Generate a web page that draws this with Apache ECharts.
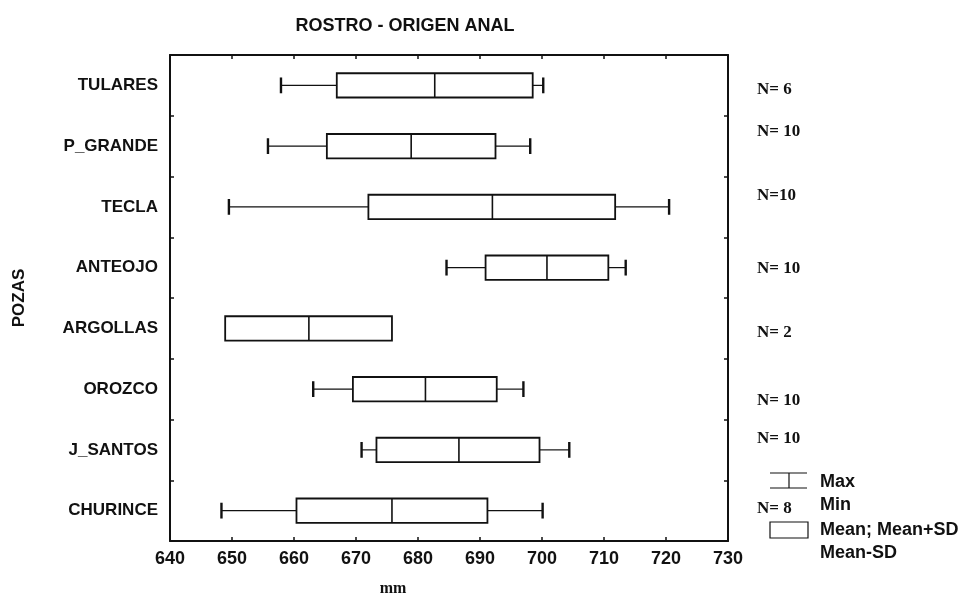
<!DOCTYPE html>
<html>
<head>
<meta charset="utf-8">
<title>ROSTRO - ORIGEN ANAL</title>
<script src="https://cdn.jsdelivr.net/npm/echarts@6/dist/echarts.min.js"></script>
<style>
  html, body { margin: 0; padding: 0; background: #fff; }
  #chart { width: 974px; height: 602px; }
</style>
</head>
<body>
<div id="chart"></div>
<script>
// values (mm)
const categories = ['TULARES', 'P_GRANDE', 'TECLA', 'ANTEOJO', 'ARGOLLAS', 'OROZCO', 'J_SANTOS', 'CHURINCE']
const minVals = [657.9, 655.8, 649.5, 684.6, 648.9, 663.1, 670.9, 648.3]
const meanMinusSd = [666.9, 665.3, 672.0, 690.9, 648.9, 669.5, 673.3, 660.4]
const means = [682.7, 678.9, 692.0, 700.8, 662.4, 681.2, 686.6, 675.8]
const meanPlusSd = [698.5, 692.5, 711.8, 710.7, 675.8, 692.7, 699.6, 691.2]
const maxVals = [700.2, 698.1, 720.5, 713.5, 675.8, 697.0, 704.4, 700.1]
const nLabels = ['N= 6', 'N= 10', 'N=10', 'N= 10', 'N= 2', 'N= 10', 'N= 10', 'N= 8']

// vertical nudge of the N labels, px (they are not centred on the rows)
const nOffsets = [4, -15, -11, 1, 4, 11, -11, -2]

const INK = '#111'
const SANS = 'Liberation Sans, Arial, sans-serif'
const SERIF = 'Liberation Serif, Times New Roman, serif'

const seriesData = categories.map((c, i) => [i, minVals[i], meanMinusSd[i], means[i], meanPlusSd[i], maxVals[i]])

function renderBox(params, api) {
  const cat = api.value(0)
  const pMin = api.coord([api.value(1), cat])
  const pLo = api.coord([api.value(2), cat])
  const pMean = api.coord([api.value(3), cat])
  const pHi = api.coord([api.value(4), cat])
  const pMax = api.coord([api.value(5), cat])
  const band = api.size([0, 1])[1]
  const boxH = band * 0.4
  const capH = band * 0.26
  const y = pMean[1]
  const children = []
  const thin = { stroke: INK, lineWidth: 1.2 }
  const cap = { stroke: INK, lineWidth: 2.4 }

  if (pMin[0] < pLo[0] - 1) {
    children.push({ type: 'line', shape: { x1: pMin[0], y1: y, x2: pLo[0], y2: y }, style: thin })
    children.push({ type: 'line', shape: { x1: pMin[0], y1: y - capH / 2, x2: pMin[0], y2: y + capH / 2 }, style: cap })
  }
  if (pMax[0] > pHi[0] + 1) {
    children.push({ type: 'line', shape: { x1: pHi[0], y1: y, x2: pMax[0], y2: y }, style: thin })
    children.push({ type: 'line', shape: { x1: pMax[0], y1: y - capH / 2, x2: pMax[0], y2: y + capH / 2 }, style: cap })
  }
  children.push({
    type: 'rect',
    shape: { x: pLo[0], y: y - boxH / 2, width: pHi[0] - pLo[0], height: boxH },
    style: { fill: '#fff', stroke: INK, lineWidth: 1.8 }
  })
  children.push({
    type: 'line',
    shape: { x1: pMean[0], y1: y - boxH / 2, x2: pMean[0], y2: y + boxH / 2 },
    style: { stroke: INK, lineWidth: 1.6 }
  })

  // N= label right of the frame
  const right = params.coordSys.x + params.coordSys.width
  children.push({
    type: 'text',
    x: right + 29,
    y: y + nOffsets[params.dataIndex],
    style: {
      text: nLabels[params.dataIndex],
      font: 'bold 17px ' + SERIF,
      fill: INK,
      verticalAlign: 'middle',
      align: 'left'
    }
  })
  return { type: 'group', children }
}

const tickStyle = { show: true, inside: true, length: 4, lineStyle: { color: INK, width: 1.5 } }
const frameLine = { show: true, lineStyle: { color: INK, width: 2 } }

const option = {
  backgroundColor: '#fff',
  animation: false,
  title: {
    text: 'ROSTRO - ORIGEN ANAL',
    left: 400,
    top: 12,
    textAlign: 'center',
    textStyle: { fontFamily: SANS, fontWeight: 'bold', fontSize: 18, color: INK }
  },
  grid: { left: 170, right: 246, top: 55, bottom: 59 },
  xAxis: [
    {
      type: 'value',
      position: 'bottom',
      min: 640,
      max: 730,
      interval: 10,
      name: 'mm',
      nameLocation: 'middle',
      nameGap: 40,
      nameTextStyle: { fontFamily: SERIF, fontWeight: 'bold', fontSize: 16, color: INK, padding: [0, 112, 0, 0] },
      axisLine: frameLine,
      axisTick: tickStyle,
      splitLine: { show: false },
      axisLabel: { fontFamily: SANS, fontWeight: 'bold', fontSize: 18, color: INK, margin: 9 }
    },
    {
      type: 'value',
      position: 'top',
      min: 640,
      max: 730,
      interval: 10,
      axisLine: frameLine,
      axisTick: tickStyle,
      splitLine: { show: false },
      axisLabel: { show: false }
    }
  ],
  yAxis: [
    {
      type: 'category',
      data: categories,
      inverse: true,
      position: 'left',
      name: 'POZAS',
      nameLocation: 'middle',
      nameRotate: 90,
      nameGap: 142,
      nameTextStyle: { fontFamily: SANS, fontWeight: 'bold', fontSize: 17, color: INK },
      axisLine: frameLine,
      axisTick: tickStyle,
      axisLabel: { fontFamily: SANS, fontWeight: 'bold', fontSize: 17, color: INK, margin: 12 }
    },
    {
      type: 'category',
      data: categories,
      inverse: true,
      position: 'right',
      axisLine: frameLine,
      axisTick: tickStyle,
      axisLabel: { show: false }
    }
  ],
  series: [
    {
      type: 'custom',
      renderItem: renderBox,
      xAxisIndex: 0,
      yAxisIndex: 0,
      encode: { x: [1, 2, 3, 4, 5], y: 0 },
      data: seriesData,
      clip: false
    }
  ],
  graphic: [
    // legend, bottom right
    { type: 'line', shape: { x1: 770, y1: 473, x2: 807, y2: 473 }, style: { stroke: INK, lineWidth: 1.2 } },
    { type: 'line', shape: { x1: 770, y1: 488, x2: 807, y2: 488 }, style: { stroke: INK, lineWidth: 1.2 } },
    { type: 'line', shape: { x1: 789, y1: 473, x2: 789, y2: 488 }, style: { stroke: INK, lineWidth: 1.2 } },
    { type: 'text', x: 820, y: 482, style: { text: 'Max', font: 'bold 18px ' + SANS, fill: INK, verticalAlign: 'middle' } },
    { type: 'text', x: 820, y: 505, style: { text: 'Min', font: 'bold 18px ' + SANS, fill: INK, verticalAlign: 'middle' } },
    { type: 'rect', shape: { x: 770, y: 522, width: 38, height: 16 }, style: { fill: '#fff', stroke: INK, lineWidth: 1.2 } },
    { type: 'text', x: 820, y: 530, style: { text: 'Mean; Mean+SD', font: 'bold 18px ' + SANS, fill: INK, verticalAlign: 'middle' } },
    { type: 'text', x: 820, y: 553, style: { text: 'Mean-SD', font: 'bold 18px ' + SANS, fill: INK, verticalAlign: 'middle' } }
  ]
}

const chart = echarts.init(document.getElementById('chart'))
chart.setOption(option)
window.addEventListener('resize', () => chart.resize())
</script>
</body>
</html>
